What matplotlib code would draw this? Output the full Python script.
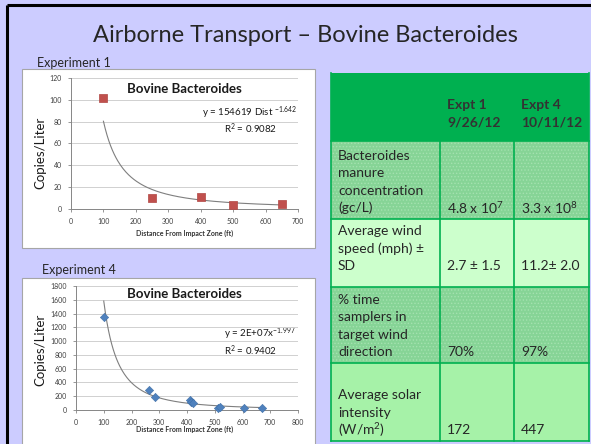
import numpy as np
import matplotlib
matplotlib.use("Agg")
import matplotlib.pyplot as plt
from matplotlib.patches import Rectangle

plt.rcParams['font.family'] = ['Lato', 'DejaVu Sans']
plt.rcParams['mathtext.fontset'] = 'custom'
plt.rcParams['mathtext.rm'] = 'Lato'
plt.rcParams['mathtext.it'] = 'Lato:italic'
plt.rcParams['mathtext.bf'] = 'Lato:bold'
plt.rcParams['hatch.linewidth'] = 0.6

# ---------------- data ----------------
slide_title = "Airborne Transport \u2013 Bovine Bacteroides"
chart_title = "Bovine Bacteroides"
x_label = "Distance From Impact Zone (ft)"
y_label = "Copies/Liter"

exp1_label = "Experiment 1"
exp1_dist = [100, 250, 400, 500, 650]
exp1_copies = [102, 10, 11, 4, 5]
exp1_trend = [154619, -1.642]          # y = a * x^b
exp1_eq = "y = 154619 Dist $^{-1.642}$"
exp1_r2 = "R$^{2}$ = 0.9082"
exp1_xticks = [0, 100, 200, 300, 400, 500, 600, 700]
exp1_yticks = [0, 20, 40, 60, 80, 100, 120]

exp4_label = "Experiment 4"
exp4_dist = [100, 263, 283, 410, 415, 422, 510, 520, 605, 670]
exp4_copies = [1350, 290, 185, 140, 120, 100, 30, 50, 30, 35]
exp4_trend = [1.56e7, -1.997]
exp4_eq = "y = 2E+07x$^{-1.997}$"
exp4_r2 = "R$^{2}$ = 0.9402"
exp4_xticks = [0, 100, 200, 300, 400, 500, 600, 700, 800]
exp4_yticks = [0, 200, 400, 600, 800, 1000, 1200, 1400, 1600, 1800]

table_header = ["Expt 1\n9/26/12", "Expt 4\n10/11/12"]
row_labels = [
    ["Bacteroides", "manure", "concentration", "(gc/L)"],
    ["Average wind", "speed (mph) \u00b1", "SD"],
    ["% time", "samplers in", "target wind", "direction"],
    ["Average solar", "intensity", "(W/m$^{2}$)"],
]
expt1_values = ["4.8 x 10$^{7}$", "2.7 \u00b1 1.5", "70%", "172"]
expt4_values = ["3.3 x 10$^{8}$", "11.2\u00b1 2.0", "97%", "447"]

# ---------------- figure ----------------
W, H = 591, 444
fig = plt.figure(figsize=(W / 100, H / 100), dpi=100)
fig.patch.set_facecolor('#CCCCFF')

bg = fig.add_axes([0, 0, 1, 1])
bg.set_xlim(0, W)
bg.set_ylim(H, 0)
bg.axis('off')

# slide border
bg.plot([7, W], [5, 5], color='black', lw=2.2, solid_capstyle='butt')
bg.plot([7, 7], [5, H], color='black', lw=2.2, solid_capstyle='butt')

bg.text(305, 35, slide_title, ha='center', va='center', fontsize=17, color='#262626')

# chart boxes
bg.add_patch(Rectangle((22, 69), 293, 179, facecolor='white', edgecolor='#A6A6A6', lw=0.8))
bg.add_patch(Rectangle((22, 278), 293, 170, facecolor='white', edgecolor='#A6A6A6', lw=0.8))
bg.text(37, 63, exp1_label, ha='left', va='center', fontsize=9, color='#262626')
bg.text(42, 270, exp4_label, ha='left', va='center', fontsize=9, color='#262626')

# ---------------- table ----------------
green = '#00B050'
col_x = [331, 440, 514, 589]
row_y = [73, 141, 219, 287, 363, 441]
row_fill = ['#00B050', '#86D496', '#CCFFCC', '#86D496', '#A6F2A8']
for i in range(5):
    y0, y1 = row_y[i], row_y[i + 1]
    patterned = row_fill[i] == '#86D496'
    bg.add_patch(Rectangle((col_x[0], y0), col_x[3] - col_x[0], y1 - y0,
                           facecolor=row_fill[i],
                           edgecolor='#A4E2B0' if patterned else row_fill[i],
                           lw=0, hatch='.....' if patterned else None))
# borders
for y in row_y[1:]:
    bg.plot([col_x[0], col_x[3]], [y, y], color=green, lw=1.2)
for x in col_x:
    y_start = row_y[1] if x in (col_x[1], col_x[2]) else row_y[0]
    bg.plot([x, x], [y_start, row_y[-1]], color=green, lw=1.2)

txt_color = '#262626'
fs_tab = 10
line_h = 17.5
# header
for j, h in enumerate(table_header):
    for k, line in enumerate(h.split('\n')):
        bg.text(col_x[j + 1] + 7, 105 + k * line_h, line, ha='left', va='center',
                fontsize=fs_tab, fontweight='bold', color='#333333')
# body
last_line_y = [208, 266, 352, 430]
for i, lines in enumerate(row_labels):
    n = len(lines)
    for k, line in enumerate(lines):
        y = last_line_y[i] - (n - 1 - k) * line_h
        bg.text(col_x[0] + 7, y, line, ha='left', va='center', fontsize=fs_tab, color=txt_color)
    bg.text(col_x[1] + 7, last_line_y[i], expt1_values[i], ha='left', va='center',
            fontsize=fs_tab, color=txt_color)
    bg.text(col_x[2] + 7, last_line_y[i], expt4_values[i], ha='left', va='center',
            fontsize=fs_tab, color=txt_color)


# ---------------- charts ----------------
def px_axes(left, top, width, height):
    return fig.add_axes([left / W, 1 - (top + height) / H, width / W, height / H])


def style_chart(ax, xticks, yticks):
    ax.set_xlim(xticks[0], xticks[-1])
    ax.set_ylim(yticks[0], yticks[-1])
    ax.set_xticks(xticks)
    ax.set_yticks(yticks)
    ax.set_facecolor('none')
    for s in ['top', 'right']:
        ax.spines[s].set_visible(False)
    for s in ['left', 'bottom']:
        ax.spines[s].set_color('#868686')
        ax.spines[s].set_linewidth(0.7)
    ax.tick_params(axis='both', labelsize=5, colors='#868686', labelcolor='#404040',
                   length=2.5, width=0.6, pad=4)
    ax.yaxis.grid(True, color='#D0D0D0', lw=0.7)
    ax.set_axisbelow(True)


# Experiment 1
ax1 = px_axes(71, 78, 227, 131)
style_chart(ax1, exp1_xticks, exp1_yticks)
xs = np.linspace(min(exp1_dist), max(exp1_dist), 200)
ax1.plot(xs, exp1_trend[0] * xs ** exp1_trend[1], color='#7F7F7F', lw=0.8, zorder=2)
ax1.scatter(exp1_dist, exp1_copies, marker='s', s=28, color='#C0504D',
            edgecolor='#B04643', linewidth=0.5, zorder=3, clip_on=False)
bg.text(184, 89, chart_title, ha='center', va='center', fontsize=9.5, fontweight='bold', color='#1a1a1a')
bg.text(297, 113, exp1_eq, ha='right', va='center', fontsize=7, color='#1a1a1a')
bg.text(277, 129, exp1_r2, ha='right', va='center', fontsize=7, color='#1a1a1a')
bg.text(185, 233, x_label, ha='center', va='center', fontsize=5, fontweight='bold', color='#333333')
bg.text(40, 153, y_label, ha='center', va='center', rotation=90, fontsize=9.5, color='#1a1a1a')

# Experiment 4
ax4 = px_axes(76, 286, 222, 124)
style_chart(ax4, exp4_xticks, exp4_yticks)
xs = np.linspace(min(exp4_dist), max(exp4_dist), 200)
ax4.plot(xs, exp4_trend[0] * xs ** exp4_trend[1], color='#7F7F7F', lw=0.8, zorder=2)
ax4.scatter(exp4_dist, exp4_copies, marker='D', s=18, color='#4F81BD',
            edgecolor='#3F6FA8', linewidth=0.4, zorder=3, clip_on=False)
bg.text(184, 294, chart_title, ha='center', va='center', fontsize=9.5, fontweight='bold', color='#1a1a1a')
bg.text(296, 334, exp4_eq, ha='right', va='center', fontsize=7, color='#1a1a1a')
bg.text(277, 351, exp4_r2, ha='right', va='center', fontsize=7, color='#1a1a1a')
bg.text(185, 429, x_label, ha='center', va='center', fontsize=5, fontweight='bold', color='#333333')
bg.text(40, 350, y_label, ha='center', va='center', rotation=90, fontsize=9.5, color='#1a1a1a')

fig.savefig('out.png', dpi=100, facecolor=fig.get_facecolor())
